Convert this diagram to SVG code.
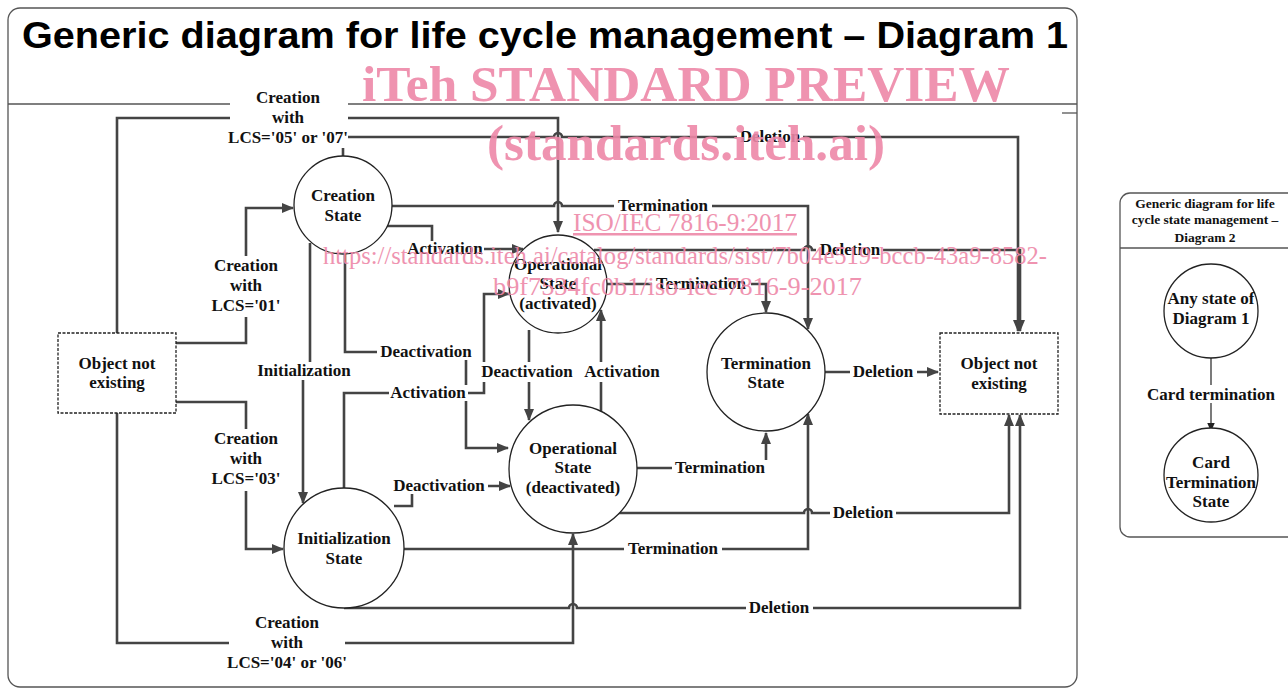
<svg xmlns="http://www.w3.org/2000/svg" width="1288" height="688" viewBox="0 0 1288 688">
<style>
.frame{fill:none;stroke:#555;stroke-width:1.3}
.c{fill:none;stroke:#444;stroke-width:2.6;marker-end:url(#arr)}
.cn{fill:none;stroke:#444;stroke-width:2.6}
.st{fill:#fff;stroke:#222;stroke-width:1.3}
.obj{fill:#fff;stroke:#222;stroke-width:1.3;stroke-dasharray:3 1.5}
.t{font-family:"Liberation Serif",serif;font-weight:bold;font-size:17px;fill:#111;text-anchor:middle}
.lb{fill:#fff}
.wm{font-family:"Liberation Serif",serif;fill:#ee88a8;opacity:0.9}
</style>
<defs>
<marker id="arr" markerWidth="12" markerHeight="10" refX="11" refY="5" orient="auto" markerUnits="userSpaceOnUse">
<path d="M0,0 L12,5 L0,10 z" fill="#444"/>
</marker>
<marker id="arr2" markerWidth="9" markerHeight="8" refX="8.5" refY="4" orient="auto" markerUnits="userSpaceOnUse">
<path d="M0,0 L9,4 L0,8 z" fill="#222"/>
</marker>
</defs>
<rect x="0" y="0" width="1288" height="688" fill="#fff"/>
<g id="frame1">
<rect class="frame" x="8" y="8" width="1069" height="679" rx="12"/>
<line class="frame" x1="8" y1="104" x2="1077" y2="104"/>
<line class="frame" x1="1062" y1="113" x2="1077" y2="113"/>
<text x="545" y="48" font-family="Liberation Sans,Arial,sans-serif" font-weight="bold" font-size="36" text-anchor="middle" textLength="1046" lengthAdjust="spacingAndGlyphs" fill="#000">Generic diagram for life cycle management – Diagram 1</text>
</g>
<g id="connectors">
<path class="c" d="M117,333 V118 H558 V232"/>
<path class="c" d="M343,157 V137 H554 a4,4 0 0 1 8,0 H1018 V331"/>
<path class="c" d="M392,206 H554 a4,4 0 0 1 8,0 H808 V329"/>
<path class="c" d="M386,226 H432 V249 H523"/>
<path class="c" d="M345,254 V352 H466 V448 H508"/>
<path class="c" d="M310,243 V362 M303,380 V503"/>
<path class="c" d="M176,343 H246 V208 H293"/>
<path class="c" d="M176,402 H246 V549 H283"/>
<path class="c" d="M117,413 V643 H573 V534"/>
<path class="c" d="M344,488 V393 H484 V294 H509"/>
<path class="c" d="M394,506 H412 V486 H510"/>
<path class="c" d="M529,330 V420"/>
<path class="c" d="M601,412 V310"/>
<path class="c" d="M594,250 H804 a4,4 0 0 1 8,0 H1020 V331"/>
<path class="c" d="M607,284 H766 V312"/>
<path class="c" d="M637,468 H766 V433"/>
<path class="c" d="M825,372 H938"/>
<path class="c" d="M618,513 H804 a4,4 0 0 1 8,0 H1009 V415"/>
<path class="c" d="M404,549 H808 V414"/>
<path class="c" d="M344,608 H569 a4,4 0 0 1 8,0 H1020 V415"/>
<path fill="none" stroke="#222" stroke-width="1.2" marker-end="url(#arr2)" d="M1211,358 V431"/>
</g>
<g id="labels">
<rect class="lb" x="230" y="86" width="118" height="62"/>
<text class="t"><tspan x="288" y="103">Creation</tspan><tspan x="288" y="123">with</tspan><tspan x="288" y="143">LCS='05' or '07'</tspan></text>
<rect class="lb" x="210" y="256" width="72" height="61"/>
<text class="t"><tspan x="246" y="271">Creation</tspan><tspan x="246" y="291">with</tspan><tspan x="246" y="311">LCS='01'</tspan></text>
<rect class="lb" x="210" y="429" width="72" height="62"/>
<text class="t"><tspan x="246" y="444">Creation</tspan><tspan x="246" y="464">with</tspan><tspan x="246" y="484">LCS='03'</tspan></text>
<rect class="lb" x="229" y="612" width="116" height="62"/>
<text class="t"><tspan x="287" y="628">Creation</tspan><tspan x="287" y="648">with</tspan><tspan x="287" y="668">LCS='04' or '06'</tspan></text>
<rect class="lb" x="737" y="129" width="66" height="16"/><text class="t" x="770" y="142">Deletion</text>
<rect class="lb" x="614" y="198" width="98" height="16"/><text class="t" x="663" y="211">Termination</text>
<rect class="lb" x="816" y="242" width="67" height="16"/><text class="t" x="850" y="255">Deletion</text>
<rect class="lb" x="652" y="276" width="99" height="16"/><text class="t" x="701" y="289">Termination</text>
<rect class="lb" x="406" y="241" width="78" height="16"/><text class="t" x="445" y="254">Activation</text>
<rect class="lb" x="377" y="344" width="98" height="16"/><text class="t" x="426" y="357">Deactivation</text>
<rect class="lb" x="254" y="362" width="100" height="18"/><text class="t" x="304" y="376">Initialization</text>
<rect class="lb" x="389" y="385" width="79" height="16"/><text class="t" x="428" y="398">Activation</text>
<rect class="lb" x="478" y="362" width="98" height="20"/><text class="t" x="527" y="377">Deactivation</text>
<rect class="lb" x="582" y="362" width="80" height="20"/><text class="t" x="622" y="377">Activation</text>
<rect class="lb" x="390" y="478" width="98" height="16"/><text class="t" x="439" y="491">Deactivation</text>
<rect class="lb" x="672" y="460" width="96" height="16"/><text class="t" x="720" y="473">Termination</text>
<rect class="lb" x="850" y="364" width="67" height="16"/><text class="t" x="883" y="377">Deletion</text>
<rect class="lb" x="830" y="505" width="66" height="16"/><text class="t" x="863" y="518">Deletion</text>
<rect class="lb" x="624" y="541" width="98" height="16"/><text class="t" x="673" y="554">Termination</text>
<rect class="lb" x="746" y="600" width="67" height="16"/><text class="t" x="779" y="613">Deletion</text>
</g>
<g id="obj-left">
<rect class="obj" x="58" y="333" width="118" height="80"/>
<text class="t"><tspan x="117" y="369">Object not</tspan><tspan x="117" y="388">existing</tspan></text>
</g>
<g id="creation-state">
<circle class="st" cx="343" cy="205" r="49"/>
<text class="t"><tspan x="343" y="201">Creation</tspan><tspan x="343" y="221">State</tspan></text>
</g>
<g id="op-activated">
<circle class="st" cx="558" cy="284" r="49"/>
<text class="t"><tspan x="558" y="270">Operational</tspan><tspan x="558" y="289">State</tspan><tspan x="558" y="309">(activated)</tspan></text>
</g>
<g id="op-deactivated">
<circle class="st" cx="573" cy="469" r="64"/>
<text class="t"><tspan x="573" y="454">Operational</tspan><tspan x="573" y="473">State</tspan><tspan x="573" y="493">(deactivated)</tspan></text>
</g>
<g id="init-state">
<circle class="st" cx="344" cy="548" r="60"/>
<text class="t"><tspan x="344" y="544">Initialization</tspan><tspan x="344" y="564">State</tspan></text>
</g>
<g id="termination-state">
<circle class="st" cx="766" cy="372" r="59"/>
<text class="t"><tspan x="766" y="369">Termination</tspan><tspan x="766" y="388">State</tspan></text>
</g>
<g id="obj-right">
<rect class="obj" x="940" y="333" width="118" height="81"/>
<text class="t"><tspan x="999" y="369">Object not</tspan><tspan x="999" y="389">existing</tspan></text>
</g>
<g id="diagram2">
<rect class="frame" x="1120" y="193" width="180" height="344" rx="10"/>
<line class="frame" x1="1120" y1="248" x2="1288" y2="248"/>
<text class="t" style="font-size:13.5px"><tspan x="1205" y="208">Generic diagram for life</tspan><tspan x="1205" y="224">cycle state management –</tspan><tspan x="1205" y="242">Diagram 2</tspan></text>
<rect class="lb" x="1143" y="385" width="136" height="18"/>
<text class="t" x="1211" y="400">Card termination</text>
</g>
<g id="any-state">
<circle class="st" cx="1211" cy="311" r="47"/>
<text class="t"><tspan x="1211" y="304">Any state of</tspan><tspan x="1211" y="324">Diagram 1</tspan></text>
</g>
<g id="card-termination">
<circle class="st" cx="1211" cy="475" r="47"/>
<text class="t"><tspan x="1211" y="468">Card</tspan><tspan x="1211" y="488">Termination</tspan><tspan x="1211" y="507">State</tspan></text>
</g>
<g id="watermark">
<text class="wm" x="362" y="101" font-size="50" font-weight="bold" textLength="648" lengthAdjust="spacingAndGlyphs">iTeh STANDARD PREVIEW</text>
<text class="wm" x="487" y="160" font-size="50" font-weight="bold" textLength="398" lengthAdjust="spacingAndGlyphs">(standards.iteh.ai)</text>
<text class="wm" x="573" y="231" font-size="25" text-decoration="underline" textLength="224" lengthAdjust="spacingAndGlyphs">ISO/IEC 7816-9:2017</text>
<text class="wm" x="323" y="264" font-size="25" textLength="724" lengthAdjust="spacingAndGlyphs">https://standards.iteh.ai/catalog/standards/sist/7b04e519-bccb-43a9-8582-</text>
<text class="wm" x="493" y="295" font-size="25" textLength="369" lengthAdjust="spacingAndGlyphs">b9f7534fc0b1/iso-iec-7816-9-2017</text>
</g>
</svg>
